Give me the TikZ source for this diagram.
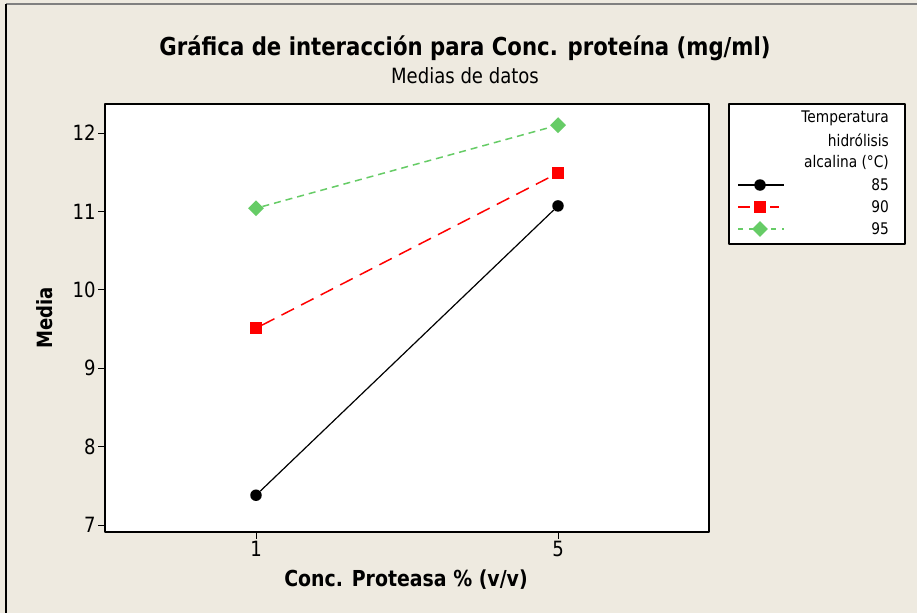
\documentclass[tikz,border=0pt]{standalone}
\usepackage{fontspec}
\setmainfont{DejaVu Sans}[FakeStretch=0.86]
\usetikzlibrary{shapes.geometric}
\definecolor{fondo}{RGB}{238,234,224}
\definecolor{verde}{RGB}{102,204,102}

\begin{document}
\begin{tikzpicture}[line cap=butt,line join=round,x=1pt,y=-1pt,
  m85/.style={circle,fill=black,inner sep=0pt,minimum size=11.5pt},
  m90/.style={rectangle,fill=red,inner sep=0pt,minimum size=11.5pt},
  m95/.style={diamond,fill=verde,inner sep=0pt,minimum size=16pt},
  l85/.style={black,line width=1.2pt},
  l90/.style={red,line width=1.5pt,dash pattern=on 14pt off 8pt},
  l95/.style={verde,line width=1.5pt,dash pattern=on 7pt off 5pt},
  ticklbl/.style={font=\fontsize{21}{23}\selectfont,inner sep=2pt},
  leyenda/.style={anchor=east,font=\fontsize{16}{18}\selectfont,inner sep=0pt}]
	\useasboundingbox (0,0) rectangle (917,613);
	\fill [fondo] (0,0) rectangle (917,613);
	\draw [line width=1.5pt,color=gray] (6,4)-- (917,4);
	\draw [line width=2pt] (6,4)-- (6,613);
	% titulos
	\node (titulo) at (465,48) {\fontsize{24.7}{27}\selectfont\bfseries Gráfica de interacción para Conc. proteína (mg/ml)};
	\node (subtitulo) at (465,76) {\fontsize{21}{23}\selectfont Medias de datos};
	\node (ejex) at (406,580) {\fontsize{22}{24}\selectfont\bfseries Conc. Proteasa \% (v/v)};
	\node [rotate=90] (ejey) at (45,318) {\fontsize{21}{23}\selectfont\bfseries Media};
	% area de datos
	\begin{scope}[shift={(180.5,1073.8)},x=75.5pt,y=78.4pt]
		\draw [line width=1.2pt,fill=white] (-1,6.91) rectangle (7,12.37);
		\foreach \v in {7,...,12}
			\draw [line width=1pt] (-1,\v)-- ++(-7pt,0pt) node [ticklbl,left] (y\v) {\v};
		\foreach \u in {1,5}
			\draw [line width=1pt] (\u,6.91)-- ++(0pt,-7pt) node [ticklbl,below] (x\u) {\u};
		\node [m85] (a1) at (1,7.38) {};
		\node [m85] (a5) at (5,11.07) {};
		\node [m90] (b1) at (1,9.51) {};
		\node [m90] (b5) at (5,11.49) {};
		\node [m95] (c1) at (1,11.04) {};
		\node [m95] (c5) at (5,12.10) {};
		\draw [l85] (a1)-- (a5);
		\draw [l90] (b1)-- (b5);
		\draw [l95] (c1)-- (c5);
	\end{scope}
	% leyenda
	\draw [line width=1.2pt,fill=white] (729,104) rectangle (905,244);
	\node [leyenda] (t1) at (889,118) {Temperatura};
	\node [leyenda] (t2) at (889,140) {hidrólisis};
	\node [leyenda] (t3) at (889,162) {alcalina (°C)};
	\node [leyenda] (t85) at (889,185) {85};
	\node [leyenda] (t90) at (889,207) {90};
	\node [leyenda] (t95) at (889,229) {95};
	\coordinate (i85) at (738,185);
	\coordinate (f85) at (784,185);
	\coordinate (i90) at (738,207);
	\coordinate (f90) at (779,207);
	\coordinate (i95) at (738,229);
	\coordinate (f95) at (784,229);
	\draw [l85] (i85)-- (f85);
	\draw [l90,dash pattern=on 12pt off 4pt] (i90)-- (f90);
	\draw [l95,dash pattern=on 5pt off 6pt] (i95)-- (f95);
	\node [m85] (k85) at (760,185) {};
	\node [m90] (k90) at (760,207) {};
	\node [m95] (k95) at (760,229) {};
\end{tikzpicture}
\end{document}
